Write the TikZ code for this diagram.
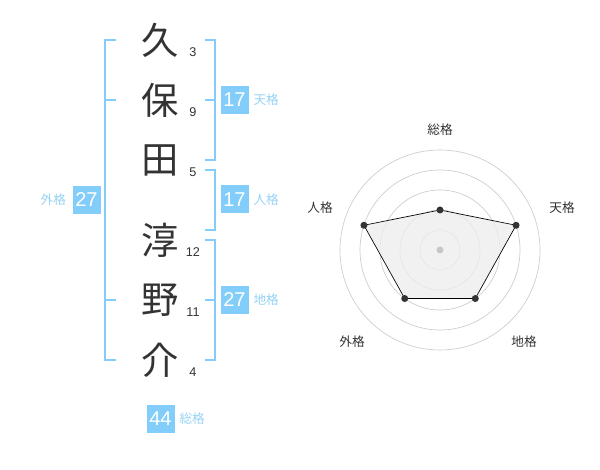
\documentclass[tikz,border=0pt]{standalone}
\usepackage{fontspec}
\setmainfont{Liberation Sans}
\newfontfamily\jpfont{Noto Sans CJK JP}
\usetikzlibrary{calc}

\definecolor{kakublue}{RGB}{130,205,250}
\definecolor{kakutext}{RGB}{150,210,245}
\definecolor{inkgray}{RGB}{51,51,51}

\begin{document}
\begin{tikzpicture}[x=0.75pt, y=-0.75pt,
	kanji/.style={inner sep=0pt, text=inkgray, font=\jpfont\fontsize{28}{28}\selectfont},
	strokes/.style={inner sep=0pt, text=inkgray, font=\fontsize{9.5}{10}\selectfont},
	kakubox/.style={fill=kakublue, text=white, minimum size=21pt, inner sep=0pt, font=\fontsize{15}{15}\selectfont},
	kakuname/.style={inner sep=0pt, text=kakutext, font=\jpfont\fontsize{9.5}{10}\selectfont},
	bracket/.style={draw=kakublue, line width=1.5pt},
	axisname/.style={inner sep=0pt, text=inkgray, font=\jpfont\fontsize{9.5}{10}\selectfont}
	]

	% fix the page to the reference size
	\useasboundingbox (0,0) rectangle (600,470);

	% the name, one character per row
	\node[kanji] (k1) at (160,40) {久};
	\node[kanji] (k2) at (160,100) {保};
	\node[kanji] (k3) at (160,160) {田};
	\node[kanji] (k4) at (160,240) {淳};
	\node[kanji] (k5) at (160,300) {野};
	\node[kanji] (k6) at (160,360) {介};

	% stroke counts
	\node[strokes] (n1) at (193,52) {3};
	\node[strokes] (n2) at (193,112) {9};
	\node[strokes] (n3) at (193,172) {5};
	\node[strokes] (n4) at (193,252) {12};
	\node[strokes] (n5) at (193,312) {11};
	\node[strokes] (n6) at (193,372) {4};

	% left bracket (outer)
	\draw[bracket] (116,40) -- (105,40) -- (105,360) -- (116,360);
	\draw[bracket] (105,100) -- (116,100);
	\draw[bracket] (105,300) -- (116,300);

	% right brackets
	\draw[bracket] (205,40) -- (214.5,40) -- (214.5,160) -- (205,160);
	\draw[bracket] (214.5,100) -- (205,100);
	\draw[bracket] (205,170) -- (214.5,170) -- (214.5,230) -- (205,230);
	\draw[bracket] (205,240) -- (214.5,240) -- (214.5,360) -- (205,360);
	\draw[bracket] (214.5,300) -- (205,300);

	% boxes with the sums
	\node[kakubox] (ten) at (234.5,100) {17};
	\node[kakubox] (jin) at (234.5,199.5) {17};
	\node[kakubox] (chi) at (234.5,300) {27};
	\node[kakubox] (gai) at (86.5,200) {27};
	\node[kakubox] (sou) at (160.5,419) {44};

	% names next to the boxes
	\node[kakuname, anchor=west] (tenname) at ($(ten.east)+(4.5,0)$) {天格};
	\node[kakuname, anchor=west] (jinname) at ($(jin.east)+(4.5,0)$) {人格};
	\node[kakuname, anchor=west] (chiname) at ($(chi.east)+(4.5,0)$) {地格};
	\node[kakuname, anchor=east] (gainame) at ($(gai.west)+(-6,0)$) {外格};
	\node[kakuname, anchor=west] (souname) at ($(sou.east)+(4.5,0)$) {総格};

	% radar chart
	\begin{scope}[shift={(440,250)}, y=0.75pt]
		\coordinate (c0) at (0,0);
		\foreach \r in {20,40,60,80,100}
			\draw[black!20, line width=0.5pt] (c0) circle (\r);

		% data points
		\coordinate (p1) at (90:40);
		\coordinate (p2) at (18:80);
		\coordinate (p3) at (-54:60);
		\coordinate (p4) at (-126:60);
		\coordinate (p5) at (162:80);

		\filldraw[fill=black!7, fill opacity=0.8, draw=black, line width=0.5pt]
			(p1) -- (p2) -- (p3) -- (p4) -- (p5) -- cycle;
		\fill[black!22] (c0) circle (3.5);
		\foreach \p in {p1,p2,p3,p4,p5}
			\fill[inkgray] (\p) circle (3.5);

		% axis names
		\node[axisname] (a1) at (0,120) {総格};
		\node[axisname] (a2) at (122,42) {天格};
		\node[axisname] (a3) at (84,-92) {地格};
		\node[axisname] (a4) at (-88,-92) {外格};
		\node[axisname] (a5) at (-120,42) {人格};
	\end{scope}

\end{tikzpicture}
\end{document}
